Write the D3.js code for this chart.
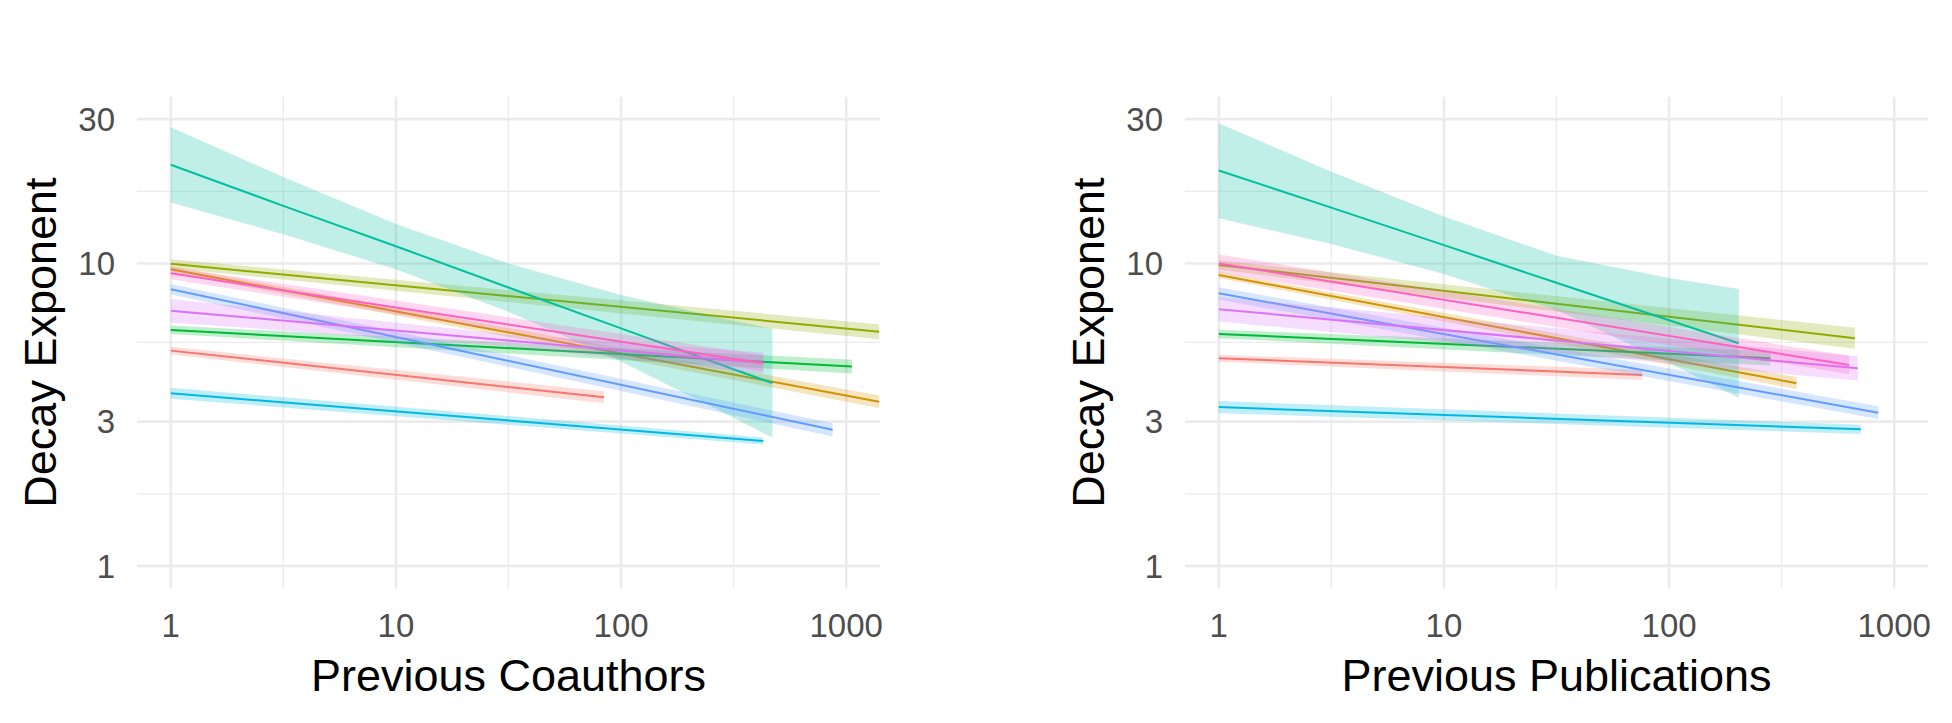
<!DOCTYPE html>
<html>
<head>
<meta charset="utf-8">
<script src="https://cdn.jsdelivr.net/npm/d3@7"></script>
<style>
  body { margin: 0; background: #fff; }
  text { font-family: "Liberation Sans", Arial, Helvetica, sans-serif; }
</style>
</head>
<body>
<svg width="1952" height="723"></svg>
<script>
// groups in ggplot hue order
const groups = ['1', '2', '3', '4', '5', '6', '7', '8', '9'];
const colors = ['#F8766D', '#D39200', '#93AA00', '#00BA38', '#00C19F', '#00B9E3', '#619CFF', '#DB72FB', '#FF61C3'];

const yTicks = [1, 3, 10, 30];
const yMinor = [1.73, 5.48, 17.3];
const xTicks = [1, 10, 100, 1000];
const xMinor = [3.16, 31.6, 316];

// [group, x, fit, lower, upper]
const coauthorFits = [
  ['1', 1, 5.15, 5.01, 5.30], ['1', 84, 3.61, 3.45, 3.78],
  ['2', 1, 9.57, 9.35, 9.79], ['2', 1400, 3.49, 3.33, 3.66],
  ['3', 1, 9.98, 9.64, 10.33], ['3', 1400, 5.95, 5.62, 6.30],
  ['4', 1, 6.03, 5.84, 6.23], ['4', 1060, 4.56, 4.33, 4.80],
  ['5', 1, 21.2, 15.9, 28.2], ['5', 3.16, 15.5, 12.5, 19.3], ['5', 10, 11.4, 9.56, 13.5],
  ['5', 31.6, 8.33, 6.93, 10.0], ['5', 100, 6.10, 4.74, 7.87], ['5', 316, 4.47, 3.09, 6.47],
  ['5', 470, 4.02, 2.66, 6.08],
  ['6', 1, 3.72, 3.57, 3.88], ['6', 428, 2.59, 2.52, 2.66],
  ['7', 1, 8.22, 7.90, 8.55], ['7', 870, 2.82, 2.68, 2.96],
  ['8', 1, 6.98, 6.38, 7.63], ['8', 31.6, 5.56, 5.31, 5.82], ['8', 428, 4.69, 4.33, 5.08],
  ['9', 1, 9.28, 8.86, 9.72], ['9', 428, 4.68, 4.40, 4.98]
];

const publicationFits = [
  ['1', 1, 4.86, 4.73, 4.99], ['1', 76, 4.28, 4.12, 4.45],
  ['2', 1, 9.16, 8.95, 9.38], ['2', 368, 4.02, 3.84, 4.21],
  ['3', 1, 9.89, 9.55, 10.24], ['3', 669, 5.66, 5.22, 6.13],
  ['4', 1, 5.85, 5.66, 6.04], ['4', 282, 4.86, 4.60, 5.14],
  ['5', 1, 20.3, 14.1, 29.1], ['5', 3.16, 15.3, 11.6, 20.1], ['5', 10, 11.5, 9.22, 14.3],
  ['5', 31.6, 8.63, 7.01, 10.6], ['5', 100, 6.49, 4.70, 8.96], ['5', 204, 5.45, 3.60, 8.24],
  ['6', 1, 3.35, 3.20, 3.51], ['6', 710, 2.83, 2.73, 2.93],
  ['7', 1, 7.97, 7.60, 8.35], ['7', 849, 3.21, 3.06, 3.37],
  ['8', 1, 7.06, 6.43, 7.75], ['8', 689, 4.50, 4.10, 4.93],
  ['9', 1, 10.0, 9.33, 10.7], ['9', 630, 4.62, 4.31, 4.95]
];

let svg = d3.select('svg');
let panelTop = 96.8, panelBottom = 588.3, panelWidth = 743;
let tickSize = 33, titleSize = 45;

let color = d3.scaleOrdinal().domain(groups).range(colors);

let y = d3.scaleLog()
  .domain([Math.pow(10, -0.074), Math.pow(10, 1.551)])
  .range([panelBottom, panelTop]);

let panels = [
  { left: 137, title: 'Previous Coauthors', data: coauthorFits },
  { left: 1185, title: 'Previous Publications', data: publicationFits }
];

panels.forEach((p, i) => {
  let x = d3.scaleLog()
    .domain([Math.pow(10, -0.15), Math.pow(10, 3.15)])
    .range([p.left, p.left + panelWidth]);

  let g = svg.append('g');

  // grid
  g.selectAll('.ymin').data(yMinor).enter().append('line')
    .attr('x1', p.left).attr('x2', p.left + panelWidth)
    .attr('y1', d => y(d)).attr('y2', d => y(d))
    .attr('stroke', '#EBEBEB').attr('stroke-width', 1.3);
  g.selectAll('.xmin').data(xMinor).enter().append('line')
    .attr('y1', panelTop).attr('y2', panelBottom)
    .attr('x1', d => x(d)).attr('x2', d => x(d))
    .attr('stroke', '#EBEBEB').attr('stroke-width', 1.3);
  g.selectAll('.ymaj').data(yTicks).enter().append('line')
    .attr('x1', p.left).attr('x2', p.left + panelWidth)
    .attr('y1', d => y(d)).attr('y2', d => y(d))
    .attr('stroke', '#EBEBEB').attr('stroke-width', 2.6);
  g.selectAll('.xmaj').data(xTicks).enter().append('line')
    .attr('y1', panelTop).attr('y2', panelBottom)
    .attr('x1', d => x(d)).attr('x2', d => x(d))
    .attr('stroke', '#EBEBEB').attr('stroke-width', 2.6);

  // tick labels
  g.selectAll('.ylab').data(yTicks).enter().append('text')
    .attr('x', p.left - 22)
    .attr('y', d => y(d) + tickSize * 0.358)
    .attr('text-anchor', 'end')
    .attr('font-size', tickSize)
    .attr('fill', '#4D4D4D')
    .text(d => d);
  g.selectAll('.xlab').data(xTicks).enter().append('text')
    .attr('x', d => x(d))
    .attr('y', 637)
    .attr('text-anchor', 'middle')
    .attr('font-size', tickSize)
    .attr('fill', '#4D4D4D')
    .text(d => d);

  // axis titles
  g.append('text')
    .attr('x', p.left + panelWidth / 2)
    .attr('y', 691)
    .attr('text-anchor', 'middle')
    .attr('font-size', titleSize)
    .attr('fill', '#000')
    .text(p.title);
  g.append('text')
    .attr('transform', `translate(${p.left - 81},${(panelTop + panelBottom) / 2}) rotate(-90)`)
    .attr('text-anchor', 'middle')
    .attr('font-size', titleSize)
    .attr('fill', '#000')
    .text('Decay Exponent');

  // fits
  let clipId = 'clip' + i;
  svg.append('clipPath').attr('id', clipId).append('rect')
    .attr('x', p.left).attr('y', panelTop)
    .attr('width', panelWidth).attr('height', panelBottom - panelTop);

  let rows = p.data.map(r => ({ group: r[0], x: r[1], y: r[2], lo: r[3], hi: r[4] }));
  let byGroup = d3.groups(rows, d => d.group);

  let area = d3.area().x(d => x(d.x)).y0(d => y(d.lo)).y1(d => y(d.hi));
  let line = d3.line().x(d => x(d.x)).y(d => y(d.y));

  let fits = g.append('g').attr('clip-path', `url(#${clipId})`);
  byGroup.forEach(([grp, pts]) => {
    fits.append('path')
      .attr('d', area(pts))
      .attr('fill', color(grp))
      .attr('fill-opacity', 0.25);
    fits.append('path')
      .attr('d', line(pts))
      .attr('fill', 'none')
      .attr('stroke', color(grp))
      .attr('stroke-width', 2);
  });
});
</script>
</body>
</html>
